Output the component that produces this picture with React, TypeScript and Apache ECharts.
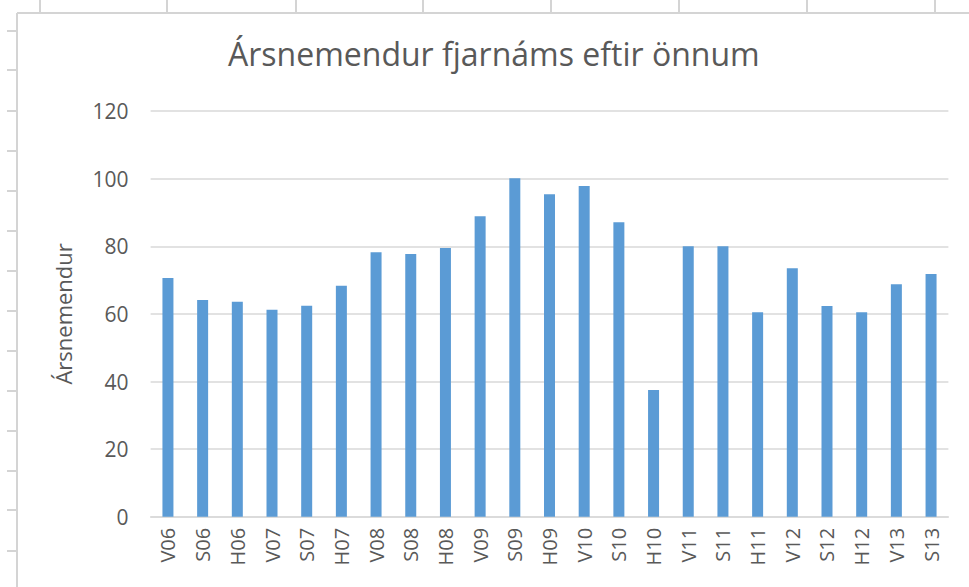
import React, { useEffect, useRef } from "react";
import * as echarts from "echarts";

const categories = ["V06","S06","H06","V07","S07","H07","V08","S08","H08","V09","S09","H09","V10","S10","H10","V11","S11","H11","V12","S12","H12","V13","S13"];
const students = [70.6,64.1,63.6,61.2,62.4,68.3,78.2,77.7,79.5,88.9,100.1,95.4,97.8,87.1,37.5,80.0,80.0,60.5,73.5,62.3,60.5,68.8,71.8];
const yTicks = { min: 0, max: 120, interval: 20 };
const titleText = "Ársnemendur fjarnáms eftir önnum";
const yName = "Ársnemendur";

const topTickX = [40, 167, 296, 423, 551, 679, 807, 935];
const leftTickY = [31, 70, 111, 151, 191, 231, 271, 311, 351, 391, 431, 471, 510, 551];

export default function App() {
  const ref = useRef<HTMLDivElement>(null);
  useEffect(() => {
    if (!ref.current) return;
    const chart = echarts.init(ref.current, null, { renderer: "svg" });
    const sheetColor = "#D4D4D4";
    const graphics: any[] = [
      { type: "line", shape: { x1: 17, y1: 13, x2: 969, y2: 13 }, style: { stroke: sheetColor, lineWidth: 2 } },
      { type: "line", shape: { x1: 17, y1: 13, x2: 17, y2: 587 }, style: { stroke: sheetColor, lineWidth: 2 } },
      ...topTickX.map((x) => ({ type: "line", shape: { x1: x, y1: 0, x2: x, y2: 13 }, style: { stroke: sheetColor, lineWidth: 2 } })),
      ...leftTickY.map((y) => ({ type: "line", shape: { x1: 7, y1: y, x2: 17, y2: y }, style: { stroke: sheetColor, lineWidth: 2 } })),
    ];
    chart.setOption({
      animation: false,
      backgroundColor: "#ffffff",
      title: {
        text: titleText,
        left: 223,
        top: 32,
        textStyle: { fontFamily: "Open Sans", fontSize: 32, fontWeight: "normal", color: "#595959" },
      },
      graphic: graphics,
      grid: { left: 150.6, right: 20.6, top: 111, bottom: 70.2, containLabel: false },
      xAxis: {
        type: "category",
        data: categories,
        axisLine: { lineStyle: { color: "#D9D9D9", width: 1.5 } },
        axisTick: { show: false },
        axisLabel: { rotate: 90, color: "#595959", fontSize: 20, fontFamily: "Open Sans", margin: 11 },
      },
      yAxis: {
        type: "value",
        min: yTicks.min,
        max: yTicks.max,
        interval: yTicks.interval,
        name: yName,
        nameLocation: "middle",
        nameGap: 77,
        nameTextStyle: { color: "#595959", fontSize: 22, fontFamily: "Open Sans" },
        axisLine: { show: false },
        axisTick: { show: false },
        axisLabel: { color: "#595959", fontSize: 21, fontFamily: "Open Sans", margin: 22 },
        splitLine: { lineStyle: { color: "#D9D9D9", width: 1.5 } },
      },
      series: [
        {
          type: "bar",
          data: students,
          barWidth: 11,
          itemStyle: { color: "#5B9BD5" },
        },
      ],
    });
    return () => chart.dispose();
  }, []);
  return <div ref={ref} style={{ position: "absolute", left: 0, top: 0, width: 969, height: 587 }} />;
}
